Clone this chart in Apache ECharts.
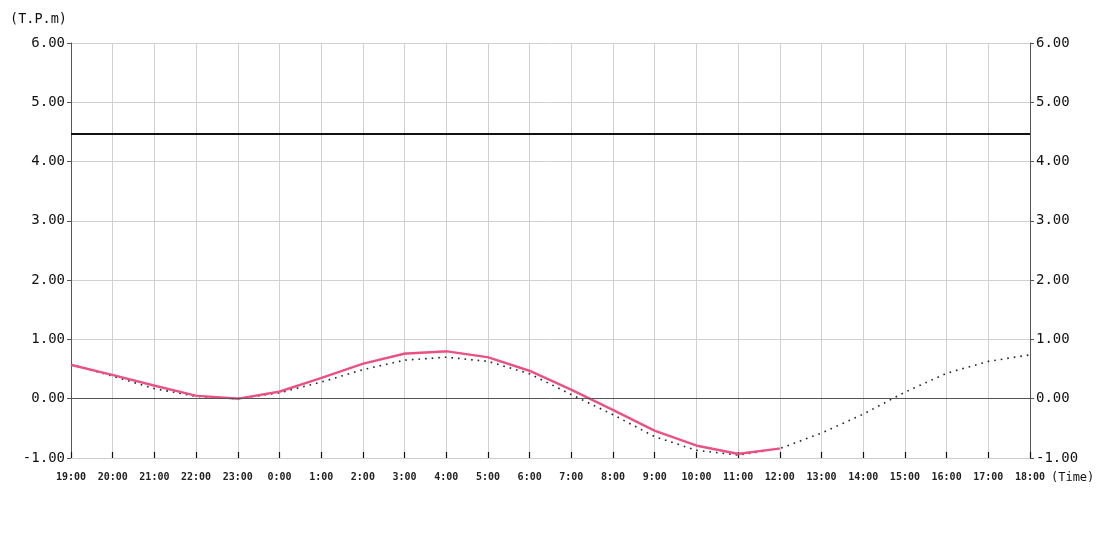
<!DOCTYPE html>
<html><head><meta charset="utf-8">
<script src="https://cdn.jsdelivr.net/npm/echarts@6/dist/echarts.min.js"></script>
<style>html,body{margin:0;padding:0;background:#fff}#c{width:1100px;height:550px}</style>
</head><body><div id="c"></div>
<script>
const categories = ['19:00','20:00','21:00','22:00','23:00','0:00','1:00','2:00','3:00','4:00','5:00','6:00','7:00','8:00','9:00','10:00','11:00','12:00','13:00','14:00','15:00','16:00','17:00','18:00'];
const observed = [0.57,0.40,0.22,0.05,0.00,0.12,0.35,0.59,0.76,0.80,0.70,0.47,0.15,-0.19,-0.54,-0.79,-0.93,-0.84];
const predicted = [0.58,0.38,0.17,0.04,0.00,0.10,0.28,0.49,0.65,0.70,0.63,0.42,0.07,-0.27,-0.64,-0.87,-0.95,-0.84,-0.58,-0.26,0.11,0.43,0.63,0.74];
const refLevel = 4.47;
const yTicks = {min:-1, max:6, interval:1};

const font = '"DejaVu Sans Mono", monospace';
const chart = echarts.init(document.getElementById('c'));
const yAxisBase = {
  type:'value', min:yTicks.min, max:yTicks.max, interval:yTicks.interval,
  axisLine:{show:true, lineStyle:{color:'#555', width:1}},
  axisTick:{show:true, length:4, lineStyle:{color:'#555'}},
  axisLabel:{formatter:v=>v.toFixed(2), fontFamily:font, fontSize:14, color:'#111', margin:6},
};
chart.setOption({
  animation:false,
  grid:{left:71, right:70, top:43, bottom:92},
  xAxis:{
    type:'category', data:categories, boundaryGap:false,
    name:'(Time)', nameLocation:'end', nameGap:4,
    nameTextStyle:{fontFamily:font, fontSize:12, color:'#111', verticalAlign:'top', padding:[14,0,0,0]},
    axisLine:{show:true, onZero:false, lineStyle:{color:'#ccc'}},
    axisTick:{show:true, inside:true, length:6, alignWithLabel:true, lineStyle:{color:'#111', width:1.2}},
    axisLabel:{fontFamily:font, fontSize:10, fontWeight:'bold', color:'#222', margin:14, interval:0},
    splitLine:{show:true, lineStyle:{color:'#d0d0d0', width:1}}
  },
  yAxis:[
    Object.assign({}, yAxisBase, {
      name:'(T.P.m)', nameLocation:'end', nameGap:17,
      nameTextStyle:{fontFamily:font, fontSize:13.5, color:'#111', align:'right', padding:[0,4,0,0]},
      splitLine:{show:true, lineStyle:{color:'#d0d0d0', width:1}}
    }),
    Object.assign({}, yAxisBase, {position:'right', splitLine:{show:false}})
  ],
  series:[
    {
      type:'line', data:predicted, showSymbol:false, symbol:'none',
      lineStyle:{color:'#222', width:1.6, type:[1.6,5]},
      markLine:{
        silent:true, symbol:'none', label:{show:false},
        data:[
          {yAxis:refLevel, lineStyle:{color:'#111', width:2, type:'solid'}},
          {yAxis:0, lineStyle:{color:'#555', width:1, type:'solid'}}
        ]
      },
      z:3
    },
    {
      type:'line', data:observed, showSymbol:false, symbol:'none',
      lineStyle:{color:'#ee4f7c', width:2.2, shadowColor:'rgba(150,90,200,0.5)', shadowBlur:1},
      z:4
    }
  ]
});
</script></body></html>
